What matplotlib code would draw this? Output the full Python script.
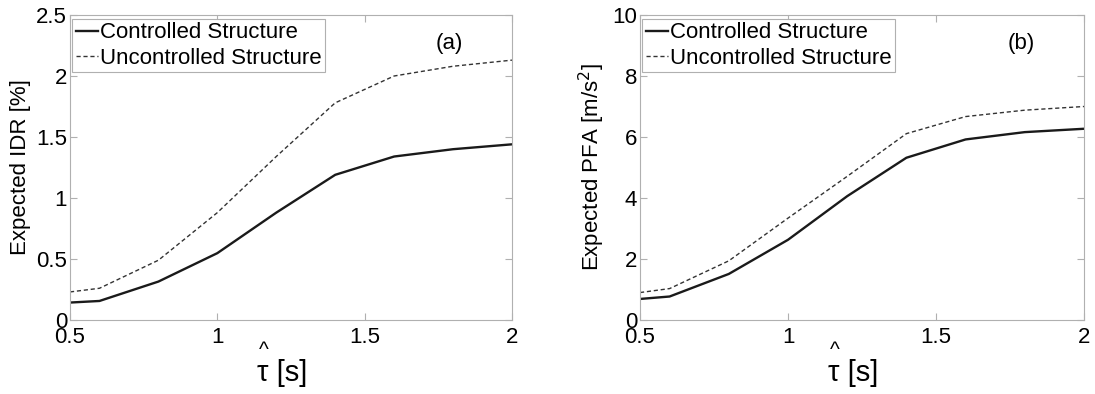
import numpy as np
import matplotlib
matplotlib.use("Agg")
import matplotlib.pyplot as plt

plt.rcParams['font.family'] = ['Liberation Sans', 'DejaVu Sans']

# Valores
tau = [0.5, 0.6, 0.8, 1.0, 1.2, 1.4, 1.6, 1.8, 2.0]
idr_controlado = [0.143, 0.156, 0.315, 0.548, 0.88, 1.19, 1.34, 1.40, 1.44]
idr_no_controlado = [0.23, 0.26, 0.49, 0.88, 1.34, 1.78, 2.00, 2.08, 2.13]
pfa_controlado = [0.69, 0.77, 1.51, 2.63, 4.06, 5.32, 5.92, 6.16, 6.27]
pfa_no_controlado = [0.90, 1.03, 1.94, 3.34, 4.71, 6.11, 6.67, 6.88, 7.00]

etiquetas = ['Controlled Structure', 'Uncontrolled Structure']
gris = '#b0b0b0'


def dibujar_panel(ax, y_c, y_nc, ylim, yticks, ylabel, letra):
    ax.plot(tau, y_c, '-', color='#1a1a1a', lw=1.7, label=etiquetas[0])
    ax.plot(tau, y_nc, '--', color='#333333', lw=1.0, dashes=(3, 2), label=etiquetas[1])
    ax.set_xlim(0.5, 2)
    ax.set_ylim(*ylim)
    ax.set_xticks([0.5, 1, 1.5, 2])
    ax.set_xticklabels(['0.5', '1', '1.5', '2'])
    ax.set_yticks(yticks)
    ax.tick_params(direction='in', top=True, right=True, length=5,
                   color=gris, labelsize=16)
    ax.tick_params(axis='x', pad=5)
    ax.tick_params(axis='y', pad=2)
    for s in ax.spines.values():
        s.set_color(gris)
    ax.set_ylabel(ylabel, fontsize=16, labelpad=4)
    # etiqueta del eje x con el acento circunflejo encima de tau
    ax.text(0.48, -0.175, 'τ [s]', transform=ax.transAxes, fontsize=21,
            ha='center', va='center')
    ax.text(0.438, -0.10, '^', transform=ax.transAxes, fontsize=15,
            ha='center', va='center')
    ax.text(0.858, 0.905, letra, transform=ax.transAxes, fontsize=16,
            ha='center', va='center')
    leg = ax.legend(loc='upper left', bbox_to_anchor=(0.005, 0.987),
                    borderaxespad=0, fontsize=16, handlelength=1.0,
                    handletextpad=0.1, borderpad=0.15,
                    labelspacing=0.2, fancybox=False, framealpha=1)
    leg.get_frame().set_edgecolor(gris)
    leg.get_frame().set_linewidth(0.8)


fig = plt.figure(figsize=(10.95, 3.94), dpi=100)
ax1 = fig.add_axes([70 / 1095, 1 - 320 / 394, 442 / 1095, 305 / 394])
ax2 = fig.add_axes([640 / 1095, 1 - 320 / 394, 444 / 1095, 305 / 394])

dibujar_panel(ax1, idr_controlado, idr_no_controlado, (0, 2.5),
              [0, 0.5, 1, 1.5, 2, 2.5], 'Expected IDR [%]', '(a)')
ax1.set_yticklabels(['0', '0.5', '1', '1.5', '2', '2.5'])
dibujar_panel(ax2, pfa_controlado, pfa_no_controlado, (0, 10),
              [0, 2, 4, 6, 8, 10], r'Expected PFA [m/s$^2$]', '(b)')

fig.savefig('out.png', dpi=100)
